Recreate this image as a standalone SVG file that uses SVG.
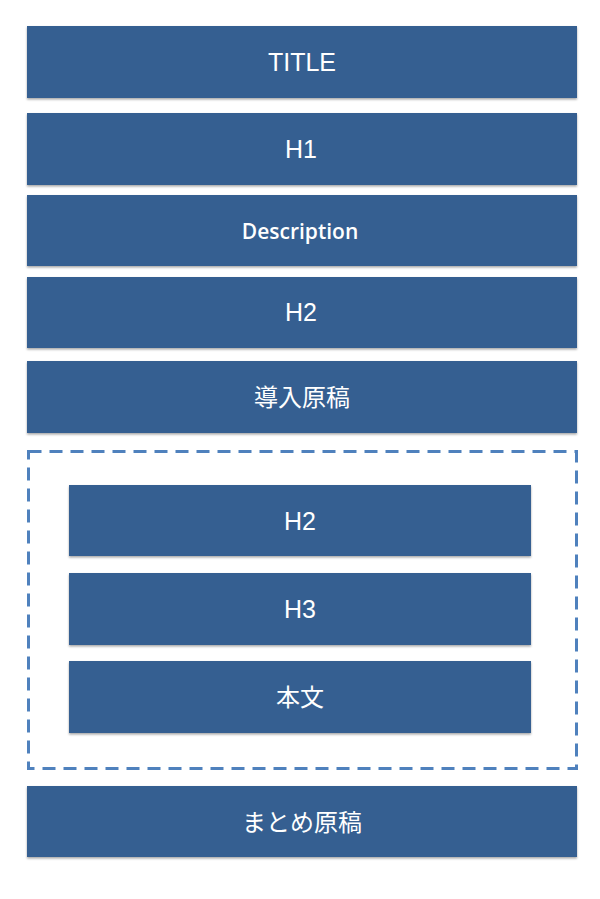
<svg xmlns="http://www.w3.org/2000/svg" width="600" height="899" viewBox="0 0 600 899">
<defs>
<filter id="sh" x="-5%" y="-10%" width="110%" height="130%">
<feDropShadow dx="0" dy="1.5" stdDeviation="1" flood-color="#000" flood-opacity="0.35"/>
</filter>
<style>
.b{fill:#365F91;filter:url(#sh)}
.t{fill:#fff;font-family:"Liberation Sans","Noto Sans CJK JP",sans-serif;font-size:25px;text-anchor:middle;dominant-baseline:central}
.d{font-family:"Open Sans","Noto Sans CJK JP",sans-serif;font-size:21px;font-weight:600}
.j{font-family:"Noto Sans CJK JP",sans-serif;font-size:24px}
</style>
</defs>
<rect width="600" height="899" fill="#fff"/>
<g id="title"><rect class="b" x="27" y="26" width="550" height="72"/><text class="t" x="302" y="62">TITLE</text></g>
<g id="h1"><rect class="b" x="27" y="113" width="550" height="72"/><text class="t" x="301" y="149">H1</text></g>
<g id="description"><rect class="b" x="27" y="195" width="550" height="71"/><text class="t d" x="300" y="231">Description</text></g>
<g id="h2a"><rect class="b" x="27" y="277" width="550" height="71"/><text class="t" x="301" y="312">H2</text></g>
<g id="intro"><rect class="b" x="27" y="361" width="550" height="72"/><text class="t j" x="302" y="395">導入原稿</text></g>
<g id="group"><rect x="28.5" y="451.5" width="548" height="317" fill="none" stroke="#4F81BD" stroke-width="3" stroke-dasharray="13,8"/></g>
<g id="h2b"><rect class="b" x="69" y="485" width="462" height="71"/><text class="t" x="300" y="521">H2</text></g>
<g id="h3"><rect class="b" x="69" y="573" width="462" height="72"/><text class="t" x="300" y="609">H3</text></g>
<g id="body"><rect class="b" x="69" y="661" width="462" height="72"/><text class="t j" x="300" y="695">本文</text></g>
<g id="summary"><rect class="b" x="27" y="786" width="550" height="71"/><text class="t j" x="302" y="820">まとめ原稿</text></g>
<g id="connectors"></g>
</svg>
